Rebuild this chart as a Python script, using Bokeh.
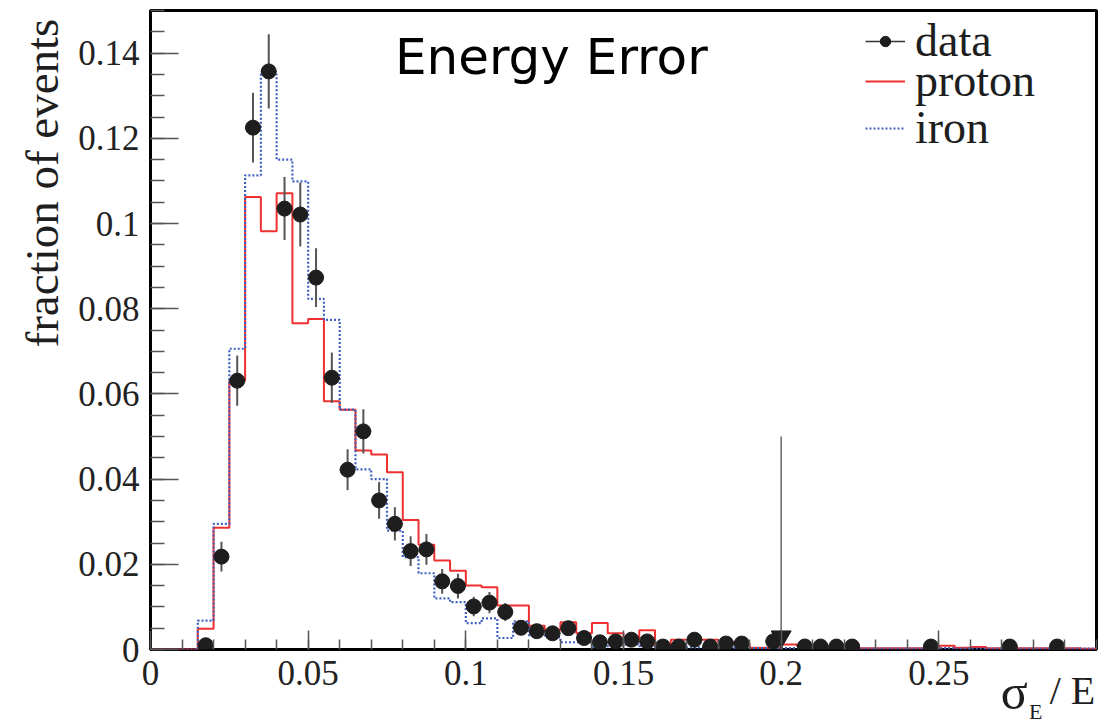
import math
import numpy as np
from bokeh.plotting import figure
from bokeh.models import FixedTicker, Label, Legend, LegendItem, LinearAxis
from bokeh.embed import file_html
from bokeh.resources import INLINE

# ---------------- data ----------------
bin_width = 0.005
bin_edges = [round(i * bin_width, 4) for i in range(61)]

proton = [0.0, 0.0, 0.0, 0.0049, 0.0286, 0.0631, 0.1062, 0.0982, 0.1071, 0.0766,
          0.0776, 0.0583, 0.0563, 0.0467, 0.0458, 0.0416, 0.0304, 0.0246, 0.0209, 0.0185,
          0.0150, 0.0146, 0.0103, 0.0103, 0.0056, 0.0045, 0.0064, 0.0038, 0.0062, 0.0038,
          0.0025, 0.0045, 0.0007, 0.0023, 0.0023, 0.0023, 0.0017, 0.0014, 0.0004, 0.0004,
          0.0012, 0.0008, 0.0008, 0.0005, 0.0003, 0.0003, 0.0003, 0.0003, 0.0003, 0.0003,
          0.0009, 0.0004, 0.0006, 0.0003, 0.0003, 0.0003, 0.0003, 0.0003, 0.0003, 0.0002]

iron = [0.0, 0.0, 0.0, 0.0068, 0.0295, 0.0706, 0.1113, 0.1350, 0.1150, 0.1099,
        0.0823, 0.0774, 0.0563, 0.0423, 0.0400, 0.0279, 0.0217, 0.0179, 0.0120, 0.0111,
        0.0062, 0.0073, 0.0027, 0.0066, 0.0033, 0.0029, 0.0017, 0.0017, 0.0005, 0.0008,
        0.0012, 0.0008, 0.0005, 0.0005, 0.0005, 0.0005, 0.0004, 0.0004, 0.0003, 0.0003,
        0.0003, 0.0003, 0.0003, 0.0003, 0.0002, 0.0002, 0.0002, 0.0002, 0.0002, 0.0002,
        0.0003, 0.0002, 0.0002, 0.0002, 0.0002, 0.0002, 0.0002, 0.0002, 0.0002, 0.0002]

data_x = [0.0175, 0.0225, 0.0275, 0.0325, 0.0375, 0.0425, 0.0475, 0.0525, 0.0575, 0.0625,
          0.0675, 0.0725, 0.0775, 0.0825, 0.0875, 0.0925, 0.0975, 0.1025, 0.1075, 0.1125,
          0.1175, 0.1225, 0.1275, 0.1325, 0.1375, 0.1425, 0.1475, 0.1525, 0.1575, 0.1625,
          0.1675, 0.1725, 0.1775, 0.1825, 0.1875, 0.1975, 0.2075, 0.2125, 0.2175, 0.2225,
          0.2475, 0.2725, 0.2875]
data_y = [0.0010, 0.0218, 0.0631, 0.1225, 0.1357, 0.1035, 0.1021, 0.0873, 0.0638, 0.0422,
          0.0512, 0.0350, 0.0295, 0.0231, 0.0235, 0.0160, 0.0149, 0.0101, 0.0110, 0.0088,
          0.0051, 0.0043, 0.0038, 0.0050, 0.0027, 0.0017, 0.0019, 0.0023, 0.0019, 0.0007,
          0.0007, 0.0023, 0.0007, 0.0014, 0.0014, 0.0019, 0.0007, 0.0007, 0.0007, 0.0007,
          0.0007, 0.0007, 0.0007]
data_err = [0.0008, 0.0035, 0.0059, 0.0082, 0.0087, 0.0074, 0.0075, 0.0069, 0.0059, 0.0048,
            0.0052, 0.0043, 0.0039, 0.0035, 0.0036, 0.0029, 0.0029, 0.0023, 0.0025, 0.0021,
            0.0016, 0.0015, 0.0014, 0.0016, 0.0012, 0.0010, 0.0010, 0.0011, 0.0010, 0.0006,
            0.0006, 0.0011, 0.0006, 0.0009, 0.0009, 0.0010, 0.0006, 0.0006, 0.0006, 0.0006,
            0.0006, 0.0006, 0.0006]

cut_x = [0.2]
cut_top = [0.05]
cut_marker_y = [0.0030]

x_ticks = [0.0, 0.05, 0.1, 0.15, 0.2, 0.25]
x_tick_labels = ["0", "0.05", "0.1", "0.15", "0.2", "0.25"]
x_minor_ticks = [round(i * 0.01, 3) for i in range(31)]
y_ticks = [0.0, 0.02, 0.04, 0.06, 0.08, 0.1, 0.12, 0.14]
y_tick_labels = ["0", "0.02", "0.04", "0.06", "0.08", "0.1", "0.12", "0.14"]
y_minor_ticks = [round(i * 0.005, 4) for i in range(31)]

title_text = "Energy Error"
y_title = "fraction of events"
x_title_main = "σ"
x_title_sub = "E"
x_title_rest = "/ E"
legend_labels = ["data", "proton", "iron"]

# positions of the axis-title texts (data units along their axis)
y_title_pos = 0.1095
x_title_main_pos = 0.2739
x_title_sub_pos = 0.2807
x_title_rest_pos = 0.2924

# ---------------- figure ----------------
p = figure(width=1112, height=726, x_range=(0, 0.3), y_range=(0, 0.15),
           output_backend="svg", toolbar_location=None,
           min_border_left=150, min_border_right=16, min_border_top=10, min_border_bottom=77)
p.xgrid.visible = False
p.ygrid.visible = False
p.outline_line_color = "black"
p.outline_line_width = 3
p.background_fill_color = "white"
p.border_fill_color = "white"

serif = "Liberation Serif"
for ax, ticks, minor, labels, tin, mtin, so in (
        (p.xaxis[0], x_ticks, x_minor_ticks, x_tick_labels, 19, 10, 11),
        (p.yaxis[0], y_ticks, y_minor_ticks, y_tick_labels, 28, 14, 11)):
    ax.ticker = FixedTicker(ticks=ticks, minor_ticks=minor)
    ax.major_label_overrides = {t: l for t, l in zip(ticks, labels)}
    ax.major_tick_in = tin
    ax.major_tick_out = 0
    ax.minor_tick_in = mtin
    ax.minor_tick_out = 0
    ax.major_tick_line_color = "#555555"
    ax.minor_tick_line_color = "#555555"
    ax.major_tick_line_width = 1.5
    ax.minor_tick_line_width = 1.5
    ax.axis_line_color = None
    ax.major_label_text_font = serif
    ax.major_label_text_font_size = "35px"
    ax.major_label_text_color = "#222222"
    ax.major_label_standoff = so


def text_axis(side, pos, text, size, standoff, orientation="horizontal"):
    ax = LinearAxis(ticker=FixedTicker(ticks=[pos], minor_ticks=[]),
                    major_label_overrides={pos: text})
    ax.axis_line_color = None
    ax.major_tick_line_color = None
    ax.minor_tick_line_color = None
    ax.major_tick_in = 0
    ax.major_tick_out = 0
    ax.minor_tick_in = 0
    ax.minor_tick_out = 0
    ax.major_label_text_font = serif
    ax.major_label_text_font_size = size
    ax.major_label_text_color = "#1e1e1e"
    ax.major_label_standoff = standoff
    ax.major_label_orientation = orientation
    p.add_layout(ax, side)
    return ax


# y-axis title (outside the tick labels)
text_axis("left", y_title_pos, y_title, "47px", 7, "vertical")
# x-axis title  sigma_E / E  at the right end, below the tick labels
text_axis("below", x_title_rest_pos, x_title_rest, "40px", -20)
text_axis("below", x_title_main_pos, x_title_main, "50px", -52)
text_axis("below", x_title_sub_pos, x_title_sub, "22px", -24)

# histograms
step_y_p = proton + [proton[-1]]
step_y_i = iron + [iron[-1]]
r_proton = p.step(x=bin_edges, y=step_y_p, mode="after", line_color="#ee3030", line_width=2)
r_iron = p.step(x=bin_edges, y=step_y_i, mode="after", line_color="#4060c0", line_width=2.2,
                line_dash="2 2")

# data with error bars
dx = np.array(data_x)
dy = np.array(data_y)
de = np.array(data_err)
p.segment(x0=dx, y0=dy - de, x1=dx, y1=dy + de, line_color="#555555", line_width=2)
r_hbar = p.segment(x0=dx - bin_width / 2, y0=dy, x1=dx + bin_width / 2, y1=dy,
                   line_color="#333333", line_width=1.5)
r_dots = p.scatter(x=dx, y=dy, size=15, fill_color="#1e1e1e", line_color="#1e1e1e")

# cut marker
p.segment(x0=cut_x, y0=cut_top, x1=cut_x, y1=[0.0], line_color="#666666", line_width=1.5)
p.scatter(x=cut_x, y=cut_marker_y, marker="inverted_triangle", size=20,
          fill_color="#1e1e1e", line_color="#1e1e1e")

# legends (one per row, for exact row spacing)
legend_rows = [([r_hbar, r_dots], 582), ([r_proton], 542), ([r_iron], 495)]
for label, (rends, ypos) in zip(legend_labels, legend_rows):
    lg = Legend(items=[LegendItem(label=label, renderers=rends)], location=(715, ypos))
    lg.background_fill_alpha = 0
    lg.border_line_color = None
    lg.label_text_font = serif
    lg.label_text_font_size = "46px"
    lg.label_text_color = "#1e1e1e"
    lg.glyph_width = 40
    lg.glyph_height = 26
    lg.label_standoff = 10
    lg.padding = 0
    lg.spacing = 0
    lg.margin = 0
    lg.label_height = 52
    p.add_layout(lg)

# title
p.add_layout(Label(x=0.0775, y=0.1392, text=title_text, text_font="DejaVu Sans",
                   text_font_size="50px", text_color="black", text_baseline="alphabetic"))

open("out.html", "w").write(file_html(p, INLINE))
